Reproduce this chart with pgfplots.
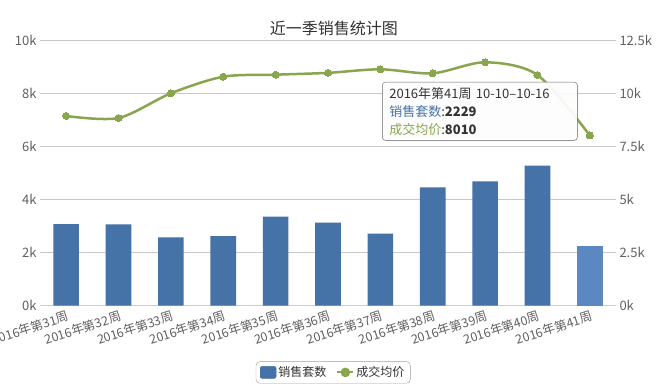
\documentclass[border=0pt]{standalone}
\usepackage{fontspec}
\setmainfont{Noto Sans CJK SC}
\usepackage{pgfplots}
\pgfplotsset{compat=1.18}
\usetikzlibrary{shadows}
\definecolor{barblue}{HTML}{4572A7}
\definecolor{barhl}{HTML}{5B88C1}
\definecolor{lineolive}{HTML}{89A54E}
\definecolor{gridc}{HTML}{C8C8C8}
\definecolor{axisc}{HTML}{C0D0E0}
\definecolor{labc}{HTML}{606060}
\definecolor{titc}{HTML}{333333}
\begin{document}
\begin{tikzpicture}
\path[use as bounding box] (-40bp,-84.3bp) rectangle (626bp,305.7bp);
\begin{axis}[
  scale only axis, width=576bp, height=265.7bp,
  xmin=-0.5, xmax=10.5, ymin=0, ymax=10000,
  scaled y ticks=false,
  axis x line*=bottom, axis y line*=left,
  y axis line style={draw=none},
  x axis line style={axisc, line width=1bp},
  xtick={0,...,10},
  xticklabels={2016年第31周,2016年第32周,2016年第33周,2016年第34周,2016年第35周,2016年第36周,2016年第37周,2016年第38周,2016年第39周,2016年第40周,2016年第41周},
  major x tick style={draw=none},
  extra x ticks={-0.5,0.5,...,10.5},
  extra x tick labels={},
  extra x tick style={tick style={axisc, line width=1bp}, major tick length=5bp, tick align=outside, grid=none},
  xticklabel style={rotate=18, anchor=north east, labc, font=\fontsize{12.5bp}{14bp}\selectfont, inner sep=1bp, yshift=-3bp},
  ymajorgrids=true, grid style={gridc, line width=0.8bp},
  ytick={0,2000,4000,6000,8000,10000},
  yticklabels={0k,2k,4k,6k,8k,10k},
  ytick style={draw=none},
  yticklabel style={labc, font=\fontsize{13bp}{15bp}\selectfont},
  clip=false,
]
\addplot[ybar, bar width=25.6bp, bar shift=0pt, fill=barblue, draw=none] coordinates {
  (0,3074) (1,3060) (2,2569) (3,2619) (4,3350) (5,3124) (6,2710) (7,4456) (8,4683) (9,5275)};
\addplot[ybar, bar width=25.6bp, bar shift=0pt, fill=barhl, draw=none] coordinates {(10,2229)};
\node[font=\fontsize{16bp}{18bp}\selectfont, text=titc] at (rel axis cs:0.51,1.045) {近一季销售统计图};
\end{axis}
\begin{axis}[
  scale only axis, width=576bp, height=265.7bp,
  xmin=-0.5, xmax=10.5, ymin=0, ymax=12500,
  scaled y ticks=false,
  axis x line=none, axis y line*=right,
  y axis line style={draw=none},
  ytick={0,2500,5000,7500,10000,12500},
  yticklabels={0k,2.5k,5k,7.5k,10k,12.5k},
  ytick style={draw=none},
  yticklabel style={labc, font=\fontsize{13bp}{15bp}\selectfont},
  clip=false,
  legend style={draw=gray!75, rounded corners=4bp, fill=white, at={(0.509,-0.251)}, anchor=center,
    font=\fontsize{12bp}{14bp}\selectfont, text=titc, inner xsep=4bp, inner ysep=3bp,
    /tikz/every even column/.append style={column sep=8bp}},
  legend columns=2,
]
\addlegendimage{legend image code/.code={\fill[barblue, rounded corners=2bp] (0bp,-6bp) rectangle (16bp,6bp);}}
\addlegendentry{销售套数}
\addplot[lineolive, line width=2.5bp, smooth, mark=*, mark size=3.5bp, mark options={fill=lineolive, draw=lineolive, line width=0pt},
  legend image code/.code={\draw[lineolive, line width=2bp] (0bp,0bp) -- (16bp,0bp); \fill[lineolive] (8bp,0bp) circle (3.5bp);}]
  coordinates {(0,8925) (1,8830) (2,9992) (3,10773) (4,10868) (5,10955) (6,11121) (7,10933) (8,11451) (9,10853) (10,8010)};
\addlegendentry{成交均价}
\node[draw=gray!80!black, rounded corners=3bp, fill=white, fill opacity=0.92, text opacity=1,
  drop shadow={opacity=0.15, shadow xshift=1bp, shadow yshift=-1bp},
  anchor=north west, inner xsep=7bp, inner ysep=5bp, text width=181bp, align=left,
  font=\fontsize{13bp}{18bp}\selectfont, text=titc]
  at (rel axis cs:0.594,0.842)
  {2016年第41周 10-10--10-16\\
   {\color{barblue}销售套数}:\textbf{2229}\\
   {\color{lineolive}成交均价}:\textbf{8010}};
\end{axis}
\end{tikzpicture}
\end{document}
